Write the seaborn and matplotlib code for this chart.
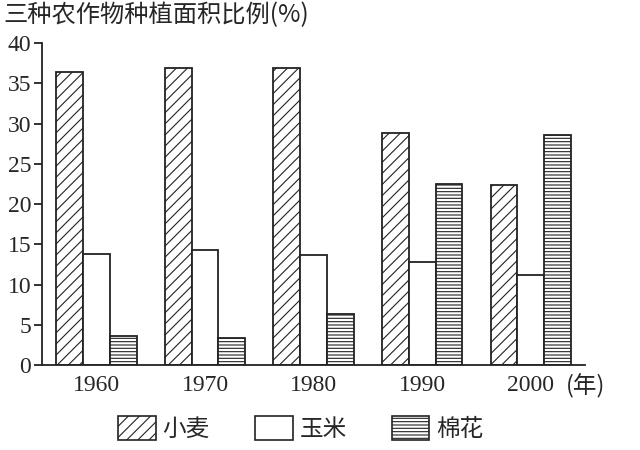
import pandas as pd
import numpy as np
import matplotlib.pyplot as plt
import seaborn as sns
from matplotlib.patches import Patch

# 三种农作物种植面积比例

anos = ['1960', '1970', '1980', '1990', '2000']
culturas = ['小麦', '玉米', '棉花']
trigo = [36.4, 36.9, 36.9, 28.8, 22.4]
milho = [13.8, 14.3, 13.7, 12.8, 11.2]
algodao = [3.6, 3.4, 6.3, 22.5, 28.6]

df = pd.DataFrame({
    'ano': anos * 3,
    'cultura': [culturas[0]] * 5 + [culturas[1]] * 5 + [culturas[2]] * 5,
    'valor': trigo + milho + algodao,
})

sns.set_style("white")
plt.rcParams['font.family'] = ['Liberation Serif', 'Noto Sans CJK SC', 'DejaVu Sans']
plt.rcParams['hatch.linewidth'] = 0.8

fig = plt.figure(figsize=(6.4, 4.5), dpi=100)
ax = fig.add_axes([0.066, 0.189, 0.848, 0.715])

sns.barplot(data=df, x='ano', y='valor', hue='cultura', order=anos, hue_order=culturas,
            palette=['white'] * 3, edgecolor='#222222', linewidth=1.3, width=0.74,
            legend=False, ax=ax)

hatches = ['///', '', '-----']
for cont, h in zip(ax.containers, hatches):
    for bar in cont:
        bar.set_hatch(h)

ax.set_xlim(-0.5, 4.5)
ax.set_ylim(0, 40)
ax.set_yticks(range(0, 41, 5))
ax.set_xlabel('')
ax.set_ylabel('')
ax.set_xticks(range(5))
ax.set_xticklabels(anos)
ax.set_xticks(np.arange(-0.5, 5, 1.0), minor=True)
ax.tick_params(axis='x', which='major', length=0, labelsize=17, pad=7)
ax.tick_params(axis='x', which='minor', length=6, width=1.3, direction='out', color='#222222')
ax.tick_params(axis='y', length=6, width=1.3, direction='out', labelsize=17, pad=2,
               color='#222222', left=True)
for lado in ['top', 'right']:
    ax.spines[lado].set_visible(False)
for lado in ['left', 'bottom']:
    ax.spines[lado].set_linewidth(1.3)
    ax.spines[lado].set_color('#222222')

fig.text(0.006, 0.966, '三种农作物种植面积比例(%)', fontsize=17.5, ha='left', va='center',
         family=['Noto Sans CJK SC', 'DejaVu Sans'])
fig.text(0.884, 0.142, '(年)', fontsize=17, ha='left', va='center',
         family=['Noto Sans CJK SC', 'DejaVu Sans'])

handles = [Patch(facecolor='white', edgecolor='#222222', hatch=h, linewidth=1.2) for h in hatches]
leg = fig.legend(handles, culturas, loc='center', bbox_to_anchor=(0.47, 0.048), ncol=3,
                 frameon=False, fontsize=17, handlelength=1.6, handleheight=1.2,
                 columnspacing=1.9, handletextpad=0.3)
for t in leg.get_texts():
    t.set_family(['Noto Sans CJK SC', 'DejaVu Sans'])

plt.savefig('out.png', dpi=100)
